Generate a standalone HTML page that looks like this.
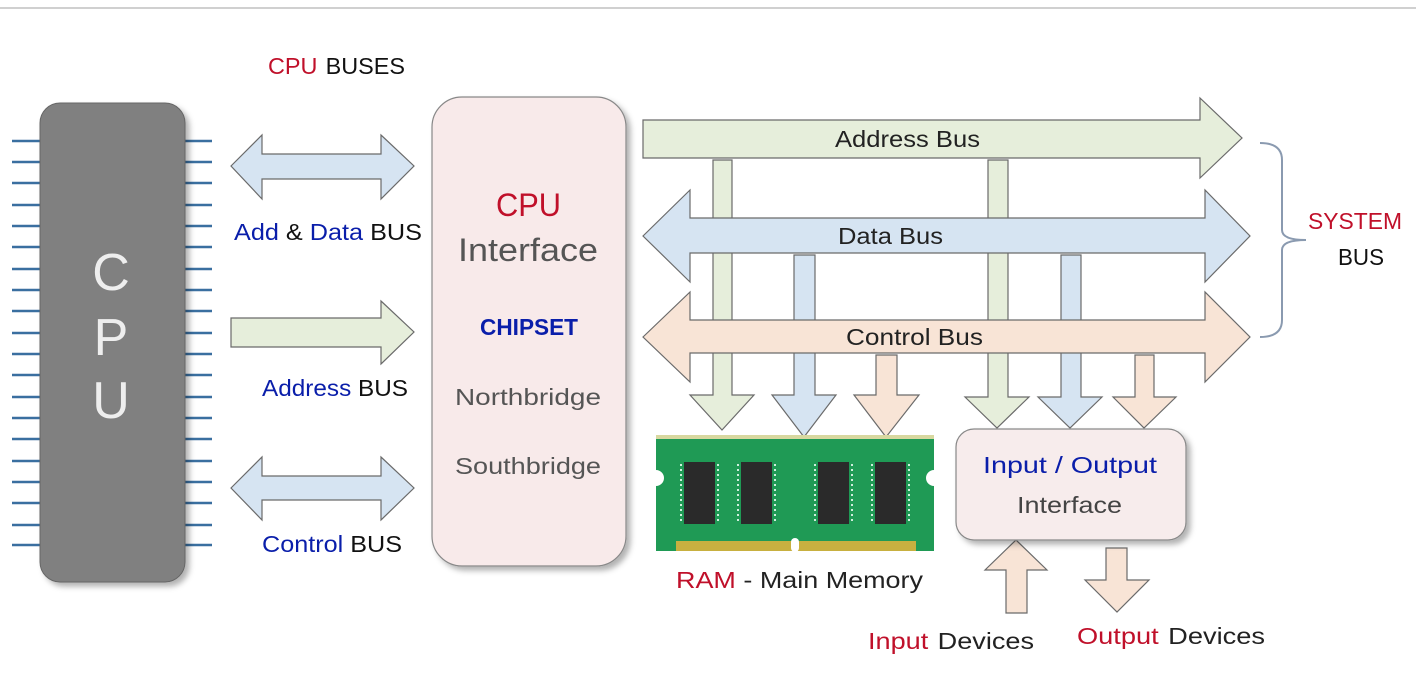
<!DOCTYPE html>
<html><head><meta charset="utf-8"><style>
html,body{margin:0;padding:0;background:#fff;}
svg{display:block;}
text{font-family:"Liberation Sans",sans-serif;}
</style></head><body>
<svg width="1416" height="678" viewBox="0 0 1416 678" xmlns="http://www.w3.org/2000/svg">
<defs>
<filter id="sh" x="-10%" y="-10%" width="130%" height="130%"><feDropShadow dx="4" dy="4" stdDeviation="3" flood-color="#000" flood-opacity="0.3"/></filter>
</defs>
<line x1="0" y1="8" x2="1416" y2="8" stroke="#d0d0d0" stroke-width="2"/>
<g stroke="#3a6fa0" stroke-width="2.5">
<path d="M12 141H40M12 162H40M12 183H40M12 205H40M12 226H40M12 247H40M12 269H40M12 290H40M12 311H40M12 333H40M12 354H40M12 375H40M12 397H40M12 418H40M12 439H40M12 461H40M12 482H40M12 503H40M12 525H40M12 545H40"/>
<path d="M185 141H212M185 162H212M185 183H212M185 205H212M185 226H212M185 247H212M185 269H212M185 290H212M185 311H212M185 333H212M185 354H212M185 375H212M185 397H212M185 418H212M185 439H212M185 461H212M185 482H212M185 503H212M185 525H212M185 545H212"/>
</g>
<rect x="40" y="103" width="145" height="479" rx="20" fill="#808080" stroke="#666" filter="url(#sh)"/>
<g fill="#eee" font-size="52" text-anchor="middle"><text x="111" y="290">C</text><text x="111" y="355">P</text><text x="111" y="418">U</text></g>
<g stroke="#6a6a6a" stroke-width="1.2">
<path d="M231 166L262 135V154H381V135L414 166L381 199V179H262V199Z" fill="#d6e4f2"/>
<path d="M231 318H381V301L414 332L381 364V347H231Z" fill="#e6eedb"/>
<path d="M231 488L262 457V476H381V457L414 488L381 520V500H262V520Z" fill="#d6e4f2"/>
</g>
<text x="268" y="74" font-size="23" textLength="137" lengthAdjust="spacingAndGlyphs"><tspan fill="#c0102a">CPU</tspan><tspan fill="#111" dx="8">BUSES</tspan></text>
<text x="234" y="240" font-size="23" textLength="188" lengthAdjust="spacingAndGlyphs"><tspan fill="#0a1eaa">Add</tspan><tspan fill="#111"> &amp; </tspan><tspan fill="#0a1eaa">Data</tspan><tspan fill="#111"> BUS</tspan></text>
<text x="262" y="396" font-size="23" textLength="146" lengthAdjust="spacingAndGlyphs"><tspan fill="#0a1eaa">Address</tspan><tspan fill="#111"> BUS</tspan></text>
<text x="262" y="552" font-size="23" textLength="140" lengthAdjust="spacingAndGlyphs"><tspan fill="#0a1eaa">Control</tspan><tspan fill="#111"> BUS</tspan></text>
<rect x="432" y="97" width="194" height="469" rx="30" fill="#f8eaea" stroke="#888" stroke-width="1.2" filter="url(#sh)"/>
<g>
<text x="496" y="216" font-size="32" fill="#c0102a" textLength="65" lengthAdjust="spacingAndGlyphs">CPU</text>
<text x="458" y="261" font-size="32" fill="#555" textLength="140" lengthAdjust="spacingAndGlyphs">Interface</text>
<text x="480" y="335" font-size="23" font-weight="bold" fill="#0a1eaa" textLength="98" lengthAdjust="spacingAndGlyphs">CHIPSET</text>
<text x="455" y="405" font-size="23" fill="#555" textLength="146" lengthAdjust="spacingAndGlyphs">Northbridge</text>
<text x="455" y="474" font-size="23" fill="#555" textLength="146" lengthAdjust="spacingAndGlyphs">Southbridge</text>
</g>
<g stroke="#6a6a6a" stroke-width="1.2">
<path d="M713 160H732V395H754L722 430L690 395H713Z" fill="#e6eedb"/>
<path d="M794 255H815V395H836L804 437L772 395H794Z" fill="#d6e4f2"/>
<path d="M876 355H897V395H919L886 437L854 395H876Z" fill="#f8e4d6"/>
<path d="M988 160H1008V397H1029L997 428L965 397H988Z" fill="#e6eedb"/>
<path d="M1061 255H1081V397H1102L1070 428L1038 397H1061Z" fill="#d6e4f2"/>
<path d="M1135 355H1154V397H1176L1144 428L1113 397H1135Z" fill="#f8e4d6"/>
<path d="M1006 613V570H985L1016 540L1047 570H1027V613Z" fill="#f8e4d6"/>
<path d="M1106 548H1127V580H1149L1117 612L1085 580H1106Z" fill="#f8e4d6"/>
</g>
<g stroke="#6a6a6a" stroke-width="1.2">
<path d="M643 120H1200V98L1242 138L1200 178V158H643Z" fill="#e6eedb"/>
<path d="M643 236L690 190V218H1205V190L1250 236L1205 282V253H690V282Z" fill="#d6e4f2"/>
<path d="M643 337L690 292V320H1205V292L1250 337L1205 382V353H690V382Z" fill="#f8e4d6"/>
</g>
<g font-size="23" fill="#222">
<text x="835" y="147" textLength="145" lengthAdjust="spacingAndGlyphs">Address Bus</text>
<text x="838" y="244" textLength="105" lengthAdjust="spacingAndGlyphs">Data Bus</text>
<text x="846" y="345" textLength="137" lengthAdjust="spacingAndGlyphs">Control Bus</text>
</g>
<path d="M1260 143Q1282 143 1282 160V230Q1282 240 1306 240Q1282 240 1282 250V320Q1282 337 1260 337" fill="none" stroke="#8a9ab0" stroke-width="2"/>
<text x="1308" y="229" font-size="23" fill="#c0102a" textLength="94" lengthAdjust="spacingAndGlyphs">SYSTEM</text>
<text x="1338" y="265" font-size="23" fill="#111" textLength="46" lengthAdjust="spacingAndGlyphs">BUS</text>
<rect x="656" y="435" width="278" height="116" fill="#1f9a55"/>
<rect x="656" y="435" width="278" height="4" fill="#d8d8a0"/>
<path d="M656 470a8 8 0 0 1 0 16Z M934 470a8 8 0 0 0 0 16Z" fill="#fff"/>
<rect x="676" y="541" width="240" height="10" fill="#c8b040"/>
<rect x="791" y="538" width="8" height="14" rx="4" fill="#fff"/>
<g fill="#2a2a2a"><rect x="684" y="462" width="31" height="62"/><rect x="741" y="462" width="31" height="62"/><rect x="818" y="462" width="31" height="62"/><rect x="875" y="462" width="31" height="62"/></g>
<g stroke="#cfeedd" stroke-width="2" stroke-dasharray="2 3"><path d="M681 464V522M718 464V522M738 464V522M775 464V522M815 464V522M852 464V522M872 464V522M909 464V522"/></g>
<text x="676" y="588" font-size="23" textLength="247" lengthAdjust="spacingAndGlyphs"><tspan fill="#c0102a">RAM</tspan><tspan fill="#222"> - Main Memory</tspan></text>
<rect x="956" y="429" width="230" height="111" rx="18" fill="#f7ecec" stroke="#888" stroke-width="1.2" filter="url(#sh)"/>
<text x="983" y="473" font-size="23" fill="#0a1eaa" textLength="174" lengthAdjust="spacingAndGlyphs">Input / Output</text>
<text x="1017" y="513" font-size="23" fill="#444" textLength="105" lengthAdjust="spacingAndGlyphs">Interface</text>
<text x="868" y="649" font-size="23" textLength="166" lengthAdjust="spacingAndGlyphs"><tspan fill="#c0102a">Input</tspan><tspan fill="#222" dx="8">Devices</tspan></text>
<text x="1077" y="644" font-size="23" textLength="188" lengthAdjust="spacingAndGlyphs"><tspan fill="#c0102a">Output</tspan><tspan fill="#222" dx="8">Devices</tspan></text>
</svg>
</body></html>
